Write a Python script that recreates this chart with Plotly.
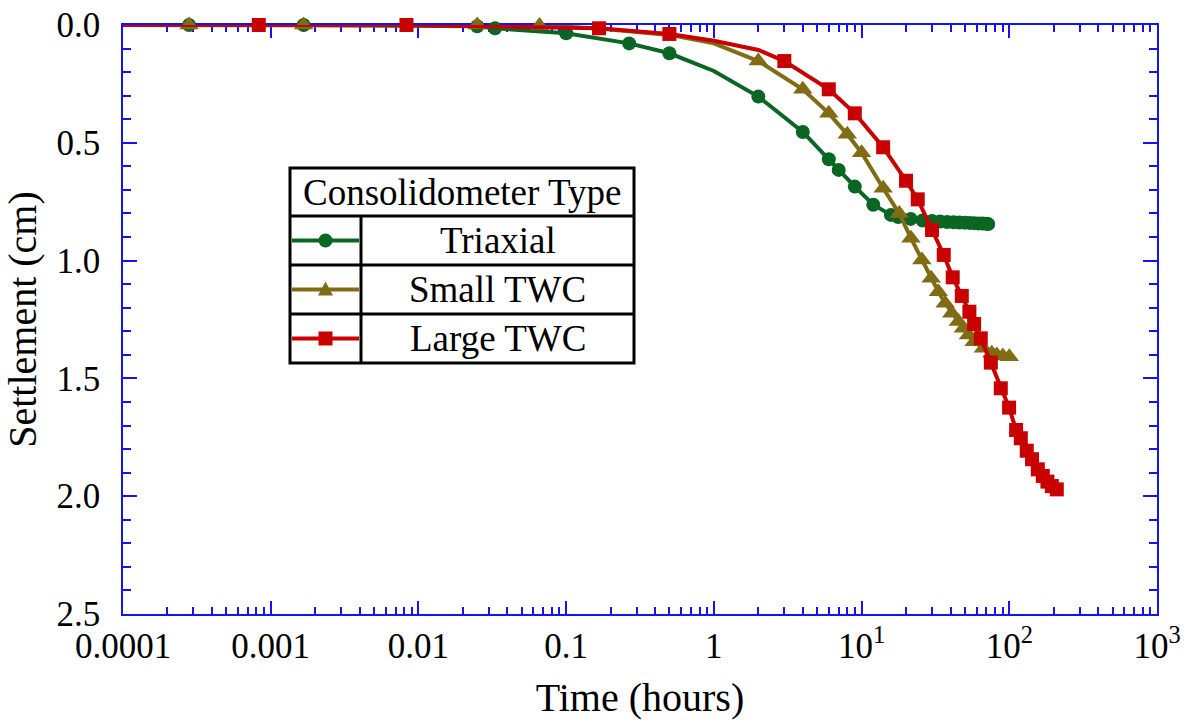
import plotly.graph_objects as go

# ---------------- data ----------------
triaxial_t = [0.0001, 0.00028, 0.00167, 0.025, 0.033, 0.1, 0.267, 0.5, 1, 2, 4, 6, 7, 9, 12,
              15.8, 17.7, 21.5, 25.9, 30, 34, 38, 42, 46, 50, 54, 58, 62, 66, 70, 72]
triaxial_s = [0, 0, 0, 0.005, 0.014, 0.035, 0.078, 0.12, 0.195, 0.304, 0.454, 0.570, 0.615, 0.686, 0.763,
              0.806, 0.815, 0.823, 0.830, 0.832, 0.834, 0.836, 0.837, 0.838, 0.839, 0.840, 0.841, 0.842,
              0.843, 0.844, 0.845]
triaxial_unmarked = [0.0001, 1]

small_t = [0.0001, 0.00028, 0.00167, 0.025, 0.066, 0.167, 0.5, 1, 2, 4, 6, 8, 10, 14, 18, 21.6, 25.6,
           29.6, 33.1, 36.8, 40.8, 45.2, 48.9, 52.9, 57.8, 66.8, 76.2, 82.3, 90.4, 100]
small_s = [0, 0, 0, 0, 0.002, 0.015, 0.042, 0.078, 0.153, 0.273, 0.375, 0.464, 0.542, 0.693, 0.80, 0.905,
           0.997, 1.075, 1.132, 1.181, 1.224, 1.259, 1.287, 1.316, 1.344, 1.372, 1.393, 1.401, 1.405, 1.408]
small_unmarked = [0.0001, 0.167, 0.5, 1]

large_t = [0.0001, 0.00083, 0.0083, 0.167, 0.5, 1, 2, 3, 6, 9, 14, 20, 24, 30, 36, 41.4, 47.7, 53.7,
           57.8, 64.1, 75, 87.6, 99.7, 111.2, 119.7, 131.3, 142.6, 156, 168.6, 181.2, 194, 209.7]
large_s = [0, 0, 0, 0.014, 0.038, 0.067, 0.106, 0.153, 0.273, 0.375, 0.519, 0.661, 0.740, 0.870, 0.976,
           1.071, 1.150, 1.217, 1.269, 1.330, 1.433, 1.542, 1.624, 1.719, 1.754, 1.807, 1.843, 1.886,
           1.914, 1.938, 1.957, 1.971]
large_unmarked = [0.0001, 1, 2]

series_names = ["Triaxial", "Small TWC", "Large TWC"]
legend_title = "Consolidometer Type"

x_tickvals = [1e-4, 1e-3, 1e-2, 1e-1, 1, 10, 100, 1000]
x_ticktext = ["0.0001", "0.001", "0.01", "0.1", "1", "10<sup>1</sup>", "10<sup>2</sup>", "10<sup>3</sup>"]
y_tickvals = [0, 0.5, 1.0, 1.5, 2.0, 2.5]

# ---------------- style ----------------
FONT = "Liberation Serif, Times New Roman, serif"
GREEN = "#0B6623"
OLIVE = "#806C14"
RED = "#C80000"
AXIS = "#1414F0"

W, H = 1189, 725
L, R, T, B = 123, 32, 25, 111
PW, PH = W - L - R, H - T - B


def pxx(x):
    return (x - L) / PW


def pxy(y):
    return 1 - (y - T) / PH


fig = go.Figure()

specs = [
    (triaxial_t, triaxial_s, triaxial_unmarked, GREEN, "circle", 14),
    (small_t, small_s, small_unmarked, OLIVE, "triangle-up", 17),
    (large_t, large_s, large_unmarked, RED, "square", 14),
]
for (tt, ss, unm, col, sym, size), name in zip(specs, series_names):
    sizes = [0 if t in unm else size for t in tt]
    fig.add_trace(go.Scatter(
        x=tt, y=ss, name=name, mode="lines+markers",
        line=dict(color=col, width=4),
        marker=dict(color=col, symbol=sym, size=sizes, opacity=1, line=dict(width=0)),
        cliponaxis=False, showlegend=False,
    ))

# minor ticks
x_minor = [m * 10 ** e for e in range(-4, 3) for m in range(2, 10)]

fig.update_xaxes(
    type="log", range=[-4, 3],
    tickvals=x_tickvals, ticktext=x_ticktext,
    ticks="inside", ticklen=13, tickwidth=1.5, tickcolor=AXIS,
    showline=True, linecolor=AXIS, linewidth=1.5, mirror="ticks",
    showgrid=False, zeroline=False, layer="below traces",
    tickfont=dict(family=FONT, size=35, color="black"),
    minor=dict(tickvals=x_minor, ticks="inside", ticklen=7, tickwidth=1.5, tickcolor=AXIS, showgrid=False),
    title=dict(text="Time (hours)", font=dict(family=FONT, size=40, color="black"), standoff=18),
)
fig.update_yaxes(
    range=[2.5, 0], tickvals=y_tickvals, tickformat=".1f",
    ticks="inside", ticklen=14, tickwidth=1.5, tickcolor=AXIS,
    showline=True, linecolor=AXIS, linewidth=1.5, mirror="ticks",
    showgrid=False, zeroline=False, layer="below traces",
    tickfont=dict(family=FONT, size=35, color="black"),
    ticklabelstandoff=14,
    minor=dict(dtick=0.1, ticks="inside", ticklen=8, tickwidth=1.5, tickcolor=AXIS, showgrid=False),
    title=dict(text="Settlement (cm)", font=dict(family=FONT, size=40, color="black"), standoff=14),
)

# ---------------- custom legend table ----------------
LX0, LX1, LXS = 290, 634, 361
LY0, LYT, LY1 = 168, 216, 363
rows = [LYT, 265, 314, LY1]
LEG_FONT = 37
shapes = []
shapes.append(dict(type="rect", xref="paper", yref="paper", x0=pxx(LX0), x1=pxx(LX1), y0=pxy(LY0), y1=pxy(LY1),
                   line=dict(color="black", width=3), fillcolor="white", layer="above"))
for yy in rows[:-1]:
    shapes.append(dict(type="line", xref="paper", yref="paper", x0=pxx(LX0), x1=pxx(LX1), y0=pxy(yy), y1=pxy(yy),
                       line=dict(color="black", width=3)))
shapes.append(dict(type="line", xref="paper", yref="paper", x0=pxx(LXS), x1=pxx(LXS), y0=pxy(LYT), y1=pxy(LY1),
                   line=dict(color="black", width=3)))
annotations = [dict(text=legend_title, xref="paper", yref="paper", x=pxx((LX0 + LX1) / 2), y=pxy((LY0 + LYT) / 2),
                    showarrow=False, font=dict(family=FONT, size=LEG_FONT, color="black"),
                    xanchor="center", yanchor="middle")]
mx = (LX0 + LXS) / 2
for i, ((_, _, _, col, sym, size), name) in enumerate(zip(specs, series_names)):
    cy = (rows[i] + rows[i + 1]) / 2
    shapes.append(dict(type="line", xref="paper", yref="paper", x0=pxx(LX0 + 2), x1=pxx(LXS - 2), y0=pxy(cy), y1=pxy(cy),
                       line=dict(color=col, width=4)))
    r = 7
    if sym == "circle":
        shapes.append(dict(type="circle", xref="paper", yref="paper", x0=pxx(mx - r), x1=pxx(mx + r),
                           y0=pxy(cy - r), y1=pxy(cy + r), fillcolor=col, line=dict(width=0)))
    elif sym == "square":
        shapes.append(dict(type="rect", xref="paper", yref="paper", x0=pxx(mx - r), x1=pxx(mx + r),
                           y0=pxy(cy - r), y1=pxy(cy + r), fillcolor=col, line=dict(width=0)))
    else:
        path = "M %f %f L %f %f L %f %f Z" % (pxx(mx), pxy(cy - 8), pxx(mx - 7.5), pxy(cy + 6), pxx(mx + 7.5), pxy(cy + 6))
        shapes.append(dict(type="path", xref="paper", yref="paper", path=path, fillcolor=col, line=dict(width=0)))
    annotations.append(dict(text=name, xref="paper", yref="paper", x=pxx((LXS + LX1) / 2), y=pxy(cy),
                            showarrow=False, font=dict(family=FONT, size=LEG_FONT, color="black"),
                            xanchor="center", yanchor="middle"))

fig.update_layout(
    width=W, height=H,
    margin=dict(l=L, r=R, t=T, b=B, autoexpand=False),
    paper_bgcolor="white", plot_bgcolor="white",
    shapes=shapes, annotations=annotations,
    showlegend=False,
)

fig.write_html("out.html")
